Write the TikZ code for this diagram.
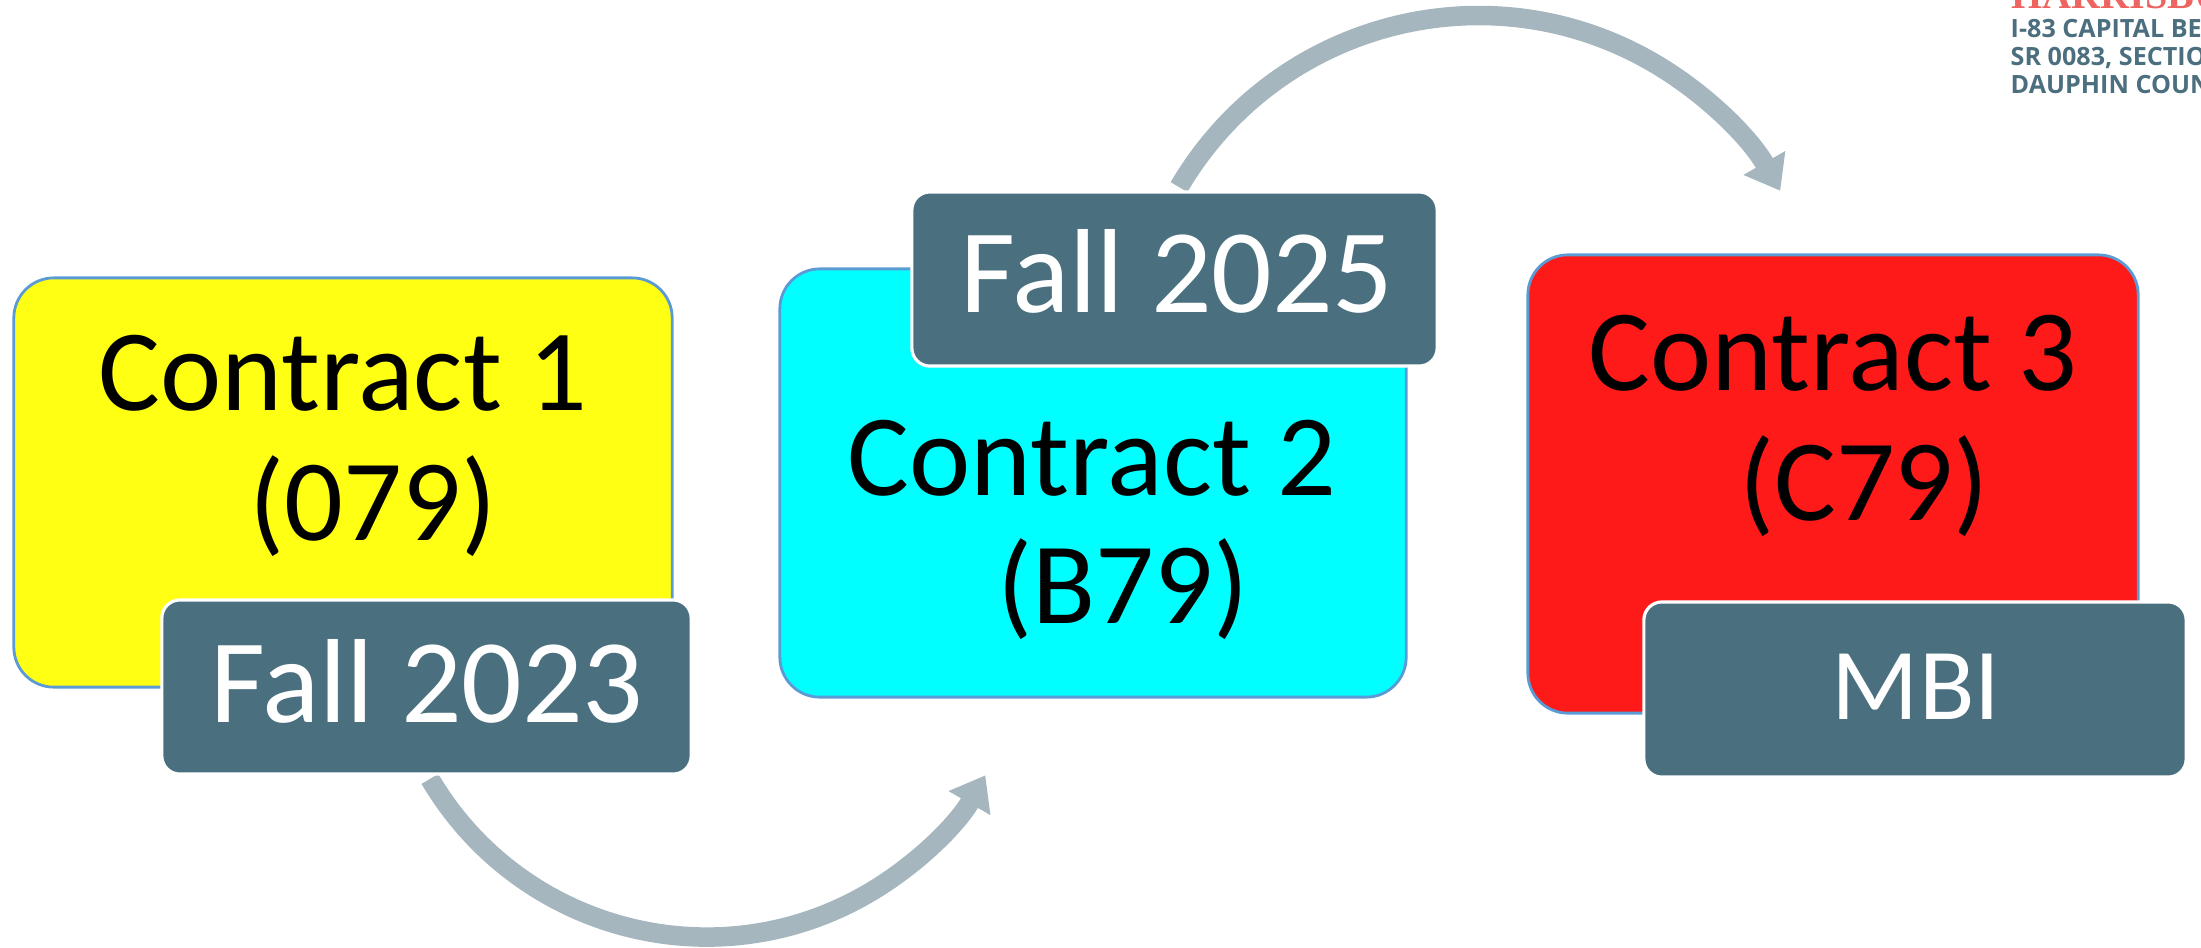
\documentclass[tikz,border=0pt]{standalone}
\usepackage{fontspec}
\setmainfont{Carlito}
\newfontfamily\logofont{Open Sans}
\newfontfamily\logoserif{Liberation Serif}
\usetikzlibrary{arrows.meta}
\definecolor{tagcol}{RGB}{74,112,128}
\definecolor{arrowcol}{RGB}{165,182,190}
\definecolor{boxborder}{RGB}{91,155,213}
\definecolor{cyel}{RGB}{255,255,20}
\definecolor{ccyan}{RGB}{0,255,255}
\definecolor{cred}{RGB}{255,26,26}
\definecolor{logored}{RGB}{238,100,96}
\definecolor{logoteal}{RGB}{75,111,126}
\begin{document}
\begin{tikzpicture}[x=0.01cm,y=0.01cm,
  bigbox/.style={draw=boxborder, line width=0.8pt, rounded corners=0.4cm, inner sep=0pt},
  tagbox/.style={draw=white, fill=tagcol, line width=0.9pt, rounded corners=0.18cm, inner sep=0pt},
  bigtext/.style={inner sep=0pt, anchor=base, text=black, font=\fontsize{33}{35}\selectfont},
  tagtext/.style={inner sep=0pt, anchor=base, text=white, font=\fontsize{34}{36}\selectfont},
  curvearrow/.style={draw=arrowcol, line width=0.195cm, -{Triangle[length=0.32cm,width=0.46cm]}},
  logoline/.style={inner sep=0pt, anchor=base west, text=logoteal, font=\logofont\bfseries\fontsize{7.15}{8}\selectfont}
]
\useasboundingbox (0,0) rectangle (2201,947);

% curved arrows
\coordinate (a1s) at (429.9,168.1);
\coordinate (a2s) at (1179.0,759.9);
\draw[curvearrow] (a1s) arc[start angle=210.5, end angle=330.25, radius=321.1];
\draw[curvearrow] (a2s) arc[start angle=149.6, end angle=29.7, radius=347.3];

% contract 1
\node[bigbox, fill=cyel, minimum width=6.58cm, minimum height=4.09cm] (b1) at (343,464.5) {};
\node[bigtext] (t1a) at (342.7,536.3) {Contract 1};
\node[bigtext] (t1b) at (373,407) {(079)};
\node[tagbox, minimum width=5.29cm, minimum height=1.74cm] (g1) at (426.5,260) {};
\node[tagtext] (s1) at (427,224.3) {Fall 2023};

% contract 2
\node[bigbox, fill=ccyan, minimum width=6.26cm, minimum height=4.28cm] (b2) at (1093,464) {};
\node[bigtext] (t2a) at (1092,452) {Contract 2};
\node[bigtext] (t2b) at (1123,324) {(B79)};
\node[tagbox, minimum width=5.25cm, minimum height=1.74cm] (g2) at (1174.5,668) {};
\node[tagtext] (s2) at (1177,634.3) {Fall 2025};

% contract 3
\node[bigbox, fill=cred, minimum width=6.10cm, minimum height=4.58cm] (b3) at (1833,463) {};
\node[bigtext] (t3a) at (1833,556.8) {Contract 3};
\node[bigtext] (t3b) at (1864,427) {(C79)};
\node[tagbox, minimum width=5.42cm, minimum height=1.75cm] (g3) at (1915,257.5) {};
\node[tagtext, font=\fontsize{29}{31}\selectfont] (s3) at (1916,227.4) {MBI};

% logo text (cut by the page edge, as in the reference)
\begin{scope}
\clip (0,0) rectangle (2201,947);
\node[inner sep=0pt, anchor=base west, text=logored, font=\logoserif\bfseries\fontsize{11.4}{12}\selectfont] (l0) at (2011,938.7) {HARRISBURG};
\node[logoline] (l1) at (2010,909.6) {I-83 CAPITAL BELTWAY};
\node[logoline] (l2) at (2010,881.5) {SR 0083, SECTION};
\node[logoline] (l3) at (2010,853.2) {DAUPHIN COUNTY};
\end{scope}
\end{tikzpicture}
\end{document}
